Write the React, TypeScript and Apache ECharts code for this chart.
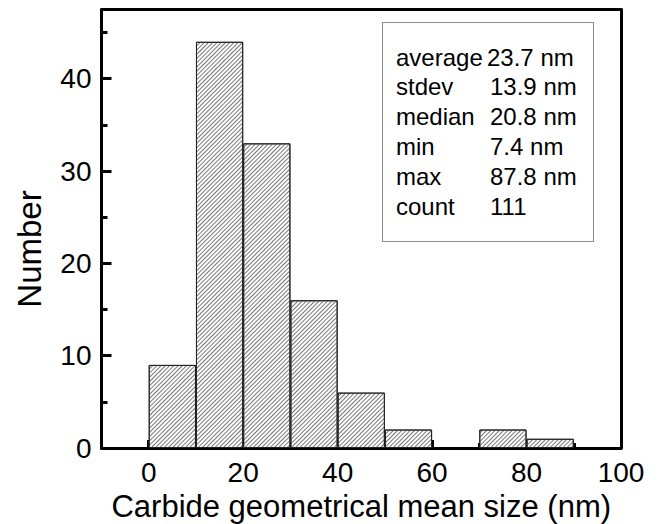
import React, { useEffect, useRef } from 'react';
import * as echarts from 'echarts';

const binStarts = [0, 10, 20, 30, 40, 50, 70, 80];
const binWidth = 10;
const counts = [9, 44, 33, 16, 6, 2, 2, 1];
const xMajorTicks = [0, 20, 40, 60, 80, 100];
const xMinorTicks = [10, 30, 50, 70, 90];
const yMajorTicks = [0, 10, 20, 30, 40];
const yMinorTicks = [5, 15, 25, 35, 45];
const statLabels = ['average', 'stdev', 'median', 'min', 'max', 'count'];
const statValues = ['23.7 nm', '13.9 nm', '20.8 nm', '7.4 nm', '87.8 nm', '111'];
const xTitle = 'Carbide geometrical mean size (nm)';
const yTitle = 'Number';

const FONT = "'Liberation Sans', Arial, sans-serif";

export default function App() {
  const ref = useRef<HTMLDivElement>(null);
  useEffect(() => {
    const chart = echarts.init(ref.current!, null, { renderer: 'svg' });
    const data = binStarts.map((s, i) => [s + binWidth / 2, counts[i]]);
    const texts: any[] = [];
    statLabels.forEach((l, i) => {
      const y = 57 + 29.8 * i;
      texts.push({
        type: 'text', x: 396, y, z: 20,
        style: { text: l, font: `24px ${FONT}`, fill: '#000', textAlign: 'left', textVerticalAlign: 'middle' },
      });
      texts.push({
        type: 'text', x: i === 0 ? 487 : 490, y, z: 20,
        style: { text: statValues[i], font: `24px ${FONT}`, fill: '#000', textAlign: 'left', textVerticalAlign: 'middle' },
      });
    });
    const ls = () => ({ color: '#000', width: 3 });
    const frameAxis = (position: string) => ({
      type: 'value', min: position === 'top' ? -10 : 0, max: position === 'top' ? 100 : 47.5, position,
      axisLine: { show: true, onZero: false, lineStyle: ls() },
      axisTick: { show: false }, axisLabel: { show: false }, splitLine: { show: false },
    });
    chart.setOption({
      animation: false,
      backgroundColor: '#fff',
      grid: { left: 101.5, right: 39, top: 9.5, bottom: 76, show: false, outerBoundsMode: 'none', containLabel: false },
      xAxis: [
        {
          type: 'value', min: -10, max: 100, position: 'bottom',
          axisLine: { show: true, onZero: false, lineStyle: ls() },
          axisTick: { show: true, inside: true, length: 8, customValues: xMajorTicks, lineStyle: ls() },
          axisLabel: { customValues: xMajorTicks, fontSize: 28, color: '#000', fontFamily: FONT, margin: 10 },
          splitLine: { show: false },
          name: xTitle, nameLocation: 'middle', nameGap: 41,
          nameTextStyle: { fontSize: 31, color: '#000', fontFamily: FONT },
        },
        {
          type: 'value', min: -10, max: 100, position: 'bottom',
          axisLine: { show: false, onZero: false },
          axisTick: { show: true, inside: true, length: 5, customValues: xMinorTicks, lineStyle: ls() },
          axisLabel: { show: false },
          splitLine: { show: false },
        },
        frameAxis('top'),
      ],
      yAxis: [
        {
          type: 'value', min: 0, max: 47.5, position: 'left',
          axisLine: { show: true, onZero: false, lineStyle: ls() },
          axisTick: { show: true, inside: true, length: 10, customValues: yMajorTicks, lineStyle: ls() },
          axisLabel: { customValues: yMajorTicks, fontSize: 28, color: '#000', fontFamily: FONT, margin: 10 },
          splitLine: { show: false },
        },
        {
          type: 'value', min: 0, max: 47.5, position: 'left',
          axisLine: { show: false, onZero: false },
          axisTick: { show: true, inside: true, length: 6, customValues: yMinorTicks, lineStyle: ls() },
          axisLabel: { show: false },
          splitLine: { show: false },
        },
        frameAxis('right'),
      ],
      series: [
        {
          type: 'bar', xAxisIndex: 0, yAxisIndex: 0,
          data, barWidth: '100%',
          itemStyle: {
            color: '#fff', borderColor: '#222', borderWidth: 1,
            decal: {
              symbol: 'rect', symbolSize: 1,
              dashArrayX: [1, 0], dashArrayY: [1, 2],
              rotation: -Math.PI / 4,
              color: '#777', backgroundColor: 'rgba(0,0,0,0)',
            },
          },
          emphasis: { disabled: true },
        },
      ],
      graphic: [
        {
          type: 'rect', z: 15,
          shape: { x: 382.5, y: 22.5, width: 211, height: 219 },
          style: { fill: '#fff', stroke: '#8a8a8a', lineWidth: 1 },
        },
        ...texts,
        {
          type: 'text', x: 29, y: 249, rotation: Math.PI / 2, z: 20,
          style: { text: yTitle, font: `33px ${FONT}`, fill: '#000', textAlign: 'center', textVerticalAlign: 'middle' },
        },
      ],
    });
    return () => chart.dispose();
  }, []);
  return <div ref={ref} style={{ position: 'fixed', left: 0, top: 0, width: 660, height: 524 }} />;
}
